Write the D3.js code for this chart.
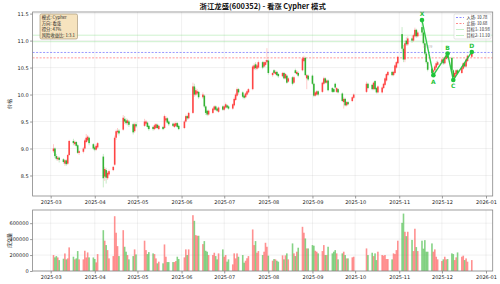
<!DOCTYPE html>
<html><head><meta charset="utf-8">
<script src="https://cdn.jsdelivr.net/npm/d3@7"></script>
<style>body{margin:0;background:#fff}svg{display:block}</style>
</head><body>
<svg id="c" width="500" height="284"></svg>
<script>
const dates = [
"2025-03-03","2025-03-04","2025-03-05","2025-03-06","2025-03-07","2025-03-10","2025-03-11","2025-03-12","2025-03-13","2025-03-14",
"2025-03-17","2025-03-18","2025-03-19","2025-03-20","2025-03-21","2025-03-24","2025-03-25","2025-03-26","2025-03-27","2025-03-28","2025-03-31",
"2025-04-01","2025-04-02","2025-04-03","2025-04-07","2025-04-08","2025-04-09","2025-04-10","2025-04-11","2025-04-14","2025-04-15",
"2025-04-16","2025-04-17","2025-04-18","2025-04-21","2025-04-22","2025-04-23","2025-04-24","2025-04-25","2025-04-28","2025-04-29","2025-04-30",
"2025-05-06","2025-05-07","2025-05-08","2025-05-09","2025-05-12","2025-05-13","2025-05-14","2025-05-15","2025-05-16","2025-05-19",
"2025-05-20","2025-05-21","2025-05-22","2025-05-23","2025-05-26","2025-05-27","2025-05-28","2025-05-29","2025-05-30",
"2025-06-03","2025-06-04","2025-06-05","2025-06-06","2025-06-09","2025-06-10","2025-06-11","2025-06-12","2025-06-13","2025-06-16",
"2025-06-17","2025-06-18","2025-06-19","2025-06-20","2025-06-23","2025-06-24","2025-06-25","2025-06-26","2025-06-27","2025-06-30",
"2025-07-01","2025-07-02","2025-07-03","2025-07-04","2025-07-07","2025-07-08","2025-07-09","2025-07-10","2025-07-11","2025-07-14",
"2025-07-15","2025-07-16","2025-07-17","2025-07-18","2025-07-21","2025-07-22","2025-07-23","2025-07-24","2025-07-25","2025-07-28",
"2025-07-29","2025-07-30","2025-07-31",
"2025-08-01","2025-08-04","2025-08-05","2025-08-06","2025-08-07","2025-08-08","2025-08-11","2025-08-12","2025-08-13","2025-08-14",
"2025-08-15","2025-08-18","2025-08-19","2025-08-20","2025-08-21","2025-08-22","2025-08-25","2025-08-26","2025-08-27","2025-08-28","2025-08-29",
"2025-09-01","2025-09-02","2025-09-03","2025-09-04","2025-09-05","2025-09-08","2025-09-09","2025-09-10","2025-09-11","2025-09-12",
"2025-09-15","2025-09-16","2025-09-17","2025-09-18","2025-09-19","2025-09-22","2025-09-23","2025-09-24","2025-09-25","2025-09-26",
"2025-09-29","2025-09-30",
"2025-10-09","2025-10-10","2025-10-13","2025-10-14","2025-10-15","2025-10-16","2025-10-17","2025-10-20","2025-10-21","2025-10-22",
"2025-10-23","2025-10-24","2025-10-27","2025-10-28","2025-10-29","2025-10-30","2025-10-31",
"2025-11-03","2025-11-04","2025-11-05","2025-11-06","2025-11-07","2025-11-10","2025-11-11","2025-11-12","2025-11-13","2025-11-14",
"2025-11-17","2025-11-18","2025-11-19","2025-11-20","2025-11-21","2025-11-24","2025-11-25","2025-11-26","2025-11-27","2025-11-28",
"2025-12-01","2025-12-02","2025-12-03","2025-12-04","2025-12-05","2025-12-08","2025-12-09","2025-12-10","2025-12-11","2025-12-12",
"2025-12-15","2025-12-16","2025-12-17","2025-12-18","2025-12-19","2025-12-22"];

const opens = [
8.95,9.00,8.86,8.80,8.83,8.80,8.72,8.78,8.72,8.88, 9.14,9.08,9.12,9.06,8.92,8.94,9.00,9.12,9.15,9.20,9.08,
9.02,8.98,9.02,8.85,8.48,8.60,8.45,8.52,8.60,8.70, 9.20,9.30,9.33,9.35,9.55,9.52,9.47,9.50,9.45,9.32,9.45,
9.42,9.46,9.48,9.42,9.40,9.36,9.38,9.44,9.36,9.40, 9.38,9.52,9.56,9.50,9.46,9.40,9.42,9.47,9.42,
9.38,9.50,9.60,9.56,9.66,10.15,10.00,10.02,10.05,9.95, 9.98,9.78,9.70,9.63,9.66,9.72,9.78,9.74,9.68,9.78,
9.72,9.76,9.80,9.78,9.74,9.80,9.90,9.98,10.10,10.04, 9.98,9.95,10.00,10.04,10.10,10.48,10.56,10.48,10.50,10.60,
10.52,10.55,10.60,
10.63,10.36,10.45,10.38,10.42,10.38,10.34,10.40,10.30,10.35, 10.24,10.32,10.22,10.45,10.38,10.40,10.45,10.62,10.68,10.30,10.35,
10.35,10.20,9.98,10.00,10.06,10.05,10.20,10.30,10.22,10.26, 10.12,10.10,10.20,10.05,10.10,10.02,9.86,9.92,9.80,9.86,
9.88,9.94,
10.05,10.20,10.18,10.10,10.25,10.12,10.04,10.04,10.12,10.18, 10.26,10.36,10.42,10.36,10.40,10.50,10.58,
11.12,10.85,10.65,11.00,10.93,11.04,11.00,11.08,11.20,11.08, 11.25,11.15,10.95,10.76,10.60,10.48,10.42,10.45,10.50,10.55,
10.60,10.65,10.58,10.66,10.72,10.68,10.45,10.32,10.38,10.45, 10.40,10.48,10.58,10.52,10.62,10.70];

const closes = [
9.00,8.86,8.81,8.83,8.79,8.75,8.78,8.71,8.88,9.14, 9.10,9.12,9.05,8.92,8.95,9.00,9.15,9.20,9.22,9.10,9.00,
8.98,9.05,9.10,8.45,8.62,8.46,8.55,8.58,8.66,9.20, 9.32,9.33,9.28,9.57,9.50,9.47,9.52,9.44,9.30,9.45,9.41,
9.50,9.50,9.40,9.36,9.36,9.43,9.45,9.38,9.42,9.36, 9.60,9.56,9.48,9.45,9.42,9.46,9.47,9.40,9.36,
9.50,9.60,9.56,9.66,10.15,10.00,10.08,10.06,9.95,10.00, 9.78,9.66,9.63,9.70,9.74,9.78,9.72,9.70,9.76,9.72,
9.78,9.82,9.76,9.74,9.82,9.92,10.00,10.10,10.04,9.96, 9.94,10.02,10.06,10.10,10.52,10.54,10.49,10.54,10.60,10.50,
10.60,10.60,10.64,
10.40,10.40,10.40,10.42,10.36,10.34,10.40,10.30,10.38,10.22, 10.30,10.20,10.32,10.40,10.42,10.35,10.67,10.68,10.36,10.36,10.28,
10.20,9.98,10.04,10.06,10.00,10.22,10.30,10.22,10.26,10.08, 10.05,10.05,10.13,10.12,10.04,9.88,9.92,9.80,9.86,9.82,
9.95,10.00,
10.20,10.12,10.10,10.22,10.10,10.04,10.15,10.13,10.20,10.30, 10.38,10.42,10.36,10.42,10.54,10.60,10.70,
10.85,10.65,10.95,10.93,11.04,11.00,11.10,11.20,11.08,11.15, 11.15,10.95,10.76,10.60,10.46,10.40,10.45,10.52,10.58,10.60,
10.65,10.58,10.68,10.72,10.68,10.45,10.32,10.40,10.45,10.40, 10.50,10.58,10.52,10.65,10.72,10.79];

const highs = [
9.08,9.02,8.90,8.86,8.85,8.82,8.80,8.80,8.90,9.16, 9.18,9.15,9.14,9.08,8.98,9.03,9.18,9.27,9.25,9.22,9.10,
9.05,9.08,9.12,8.90,8.66,8.64,8.58,8.61,8.68,9.24, 9.35,9.38,9.36,9.62,9.60,9.56,9.55,9.53,9.48,9.48,9.49,
9.55,9.53,9.50,9.44,9.42,9.46,9.47,9.46,9.44,9.42, 9.63,9.60,9.58,9.52,9.48,9.48,9.50,9.49,9.44,
9.53,9.63,9.62,9.68,10.22,10.20,10.12,10.10,10.07,10.04, 10.00,9.80,9.72,9.72,9.76,9.80,9.80,9.76,9.78,9.80,
9.80,9.85,9.82,9.80,9.84,9.95,10.03,10.13,10.12,10.06, 10.00,10.04,10.08,10.12,10.55,10.58,10.60,10.57,10.63,10.62,
10.62,10.64,10.86,
10.65,10.42,10.47,10.45,10.44,10.40,10.42,10.42,10.40,10.37, 10.32,10.34,10.35,10.48,10.45,10.43,10.70,10.72,10.70,10.38,10.37,
10.37,10.22,10.06,10.08,10.08,10.24,10.33,10.32,10.28,10.28, 10.14,10.12,10.22,10.14,10.12,10.04,9.95,9.94,9.88,9.88,
9.97,10.02,
10.24,10.22,10.20,10.24,10.27,10.14,10.17,10.15,10.22,10.32, 10.40,10.44,10.44,10.44,10.56,10.62,10.72,
11.25,10.92,11.00,11.06,11.08,11.08,11.13,11.24,11.22,11.18, 11.38,11.17,10.97,10.78,10.62,10.50,10.48,10.55,10.60,10.63,
10.68,10.67,10.70,10.74,10.76,10.70,10.47,10.42,10.47,10.47, 10.52,10.60,10.60,10.67,10.74,10.80];

const lows = [
8.92,8.82,8.78,8.77,8.74,8.72,8.68,8.68,8.70,8.86, 9.06,9.05,9.02,8.90,8.88,8.91,8.98,9.10,9.12,9.06,8.97,
8.95,8.96,9.00,8.28,8.40,8.35,8.42,8.50,8.58,8.68, 9.16,9.26,9.24,9.33,9.46,9.44,9.43,9.40,9.26,9.29,9.38,
9.40,9.43,9.37,9.33,9.33,9.34,9.36,9.36,9.34,9.34, 9.36,9.49,9.46,9.42,9.40,9.38,9.40,9.38,9.34,
9.36,9.48,9.53,9.54,9.64,9.96,9.97,9.99,9.92,9.92, 9.75,9.62,9.60,9.61,9.64,9.70,9.70,9.68,9.66,9.70,
9.70,9.74,9.74,9.72,9.72,9.78,9.88,9.96,10.00,9.93, 9.91,9.93,9.98,10.02,10.08,10.45,10.46,10.45,10.48,10.47,
10.50,10.52,10.58,
10.37,10.33,10.38,10.36,10.34,10.31,10.32,10.28,10.28,10.20, 10.22,10.17,10.20,10.38,10.36,10.32,10.43,10.60,10.34,10.10,10.25,
10.18,9.95,9.96,9.98,9.97,10.03,10.18,10.20,10.20,10.06, 10.03,10.03,10.11,10.03,10.02,9.86,9.74,9.78,9.78,9.80,
9.86,9.92,
10.03,10.10,10.08,10.08,10.08,10.02,10.02,10.02,10.10,10.16, 10.24,10.34,10.34,10.34,10.38,10.48,10.56,
10.80,10.60,10.60,10.90,10.90,10.96,10.98,11.06,11.05,11.06, 11.10,10.92,10.73,10.57,10.43,10.37,10.36,10.43,10.48,10.53,
10.58,10.55,10.56,10.64,10.65,10.42,10.27,10.30,10.36,10.37, 10.38,10.46,10.50,10.50,10.60,10.68];

const volumes = [
200,171,187,170,137,154,220,146,158,296, 179,146,158,250,146,146,254,170,233,171,170,
150,108,212,512,380,325,262,158,187,687, 480,312,187,512,304,242,200,146,187,271,208,
380,262,212,237,221,212,158,96,117,96, 333,179,112,112,112,112,125,179,150,
171,271,200,271,700,629,450,442,442,337, 375,254,242,200,200,229,187,146,221,271,
179,200,117,146,83,221,158,221,179,200, 104,129,160,187,521,325,375,229,250,200,
242,354,304,
192,129,150,146,129,117,196,146,196,221, 146,346,221,187,242,292,554,480,408,283,283,
325,317,254,242,221,250,325,200,200,304, 221,242,262,221,146,221,242,200,158,158,
171,179,
283,200,229,187,221,137,242,200,192,200, 150,150,146,221,212,262,380,
604,720,492,437,492,390,250,530,300,250, 380,280,387,242,242,346,242,271,179,146,
125,146,179,146,150,221,212,137,171,233, 179,192,137,158,117,137].map(v => v * 1000);

const yTicks = [8.5, 9.0, 9.5, 10.0, 10.5, 11.0, 11.5];
const volTicks = [0, 200000, 400000, 600000];
const monthTicks = ["2025-03-01","2025-04-01","2025-05-01","2025-06-01","2025-07-01","2025-08-01","2025-09-01","2025-10-01","2025-11-01","2025-12-01","2026-01-01"];

const patternLabels = ["X","A","B","C","D"];
const patternDates = ["2025-11-17","2025-11-25","2025-12-05","2025-12-09","2025-12-22"];
const patternPrices = [11.38, 10.36, 10.76, 10.27, 10.79];

const levelNames = ["入场","止损","目标1","目标2"];
const levelValues = [10.78, 10.68, 10.98, 11.10];

const infoLines = ["模式: Cypher","方向: 看涨","得分: 47%","风险收益比: 1:3.1"];
const titleText = "浙江龙盛(600352) - 看涨 Cypher 模式";

// ---------------- drawing ----------------
const parse = d3.timeParse("%Y-%m-%d");
const dts = dates.map(parse);
const DAY = 864e5;
const pad = 14.7 * DAY;
const L = 32.6, R = 492.7;
const x = d3.scaleTime()
  .domain([new Date(dts[0].getTime() - pad), new Date(dts[dts.length-1].getTime() + pad)])
  .range([L, R]);
const y = d3.scaleLinear().domain([8.12, 11.53]).range([196, 12]);
const yv = d3.scaleLinear().domain([0, 765000]).range([271, 210]);

const svg = d3.select("#c");
const FONT = "DejaVu Sans, Noto Sans CJK SC, sans-serif";
const CJK = "Noto Sans CJK SC, DejaVu Sans, sans-serif";
const RED = "#ff2b2b", GREEN = "#18a818";

svg.append("rect").attr("width",500).attr("height",284).attr("fill","#fff");

const mTicks = monthTicks.map(parse);

function panel(top, bottom, yScale, ticks, fmt) {
  const g = svg.append("g");
  g.selectAll(".vg").data(mTicks).enter().append("line")
    .attr("x1", d => x(d)).attr("x2", d => x(d)).attr("y1", top).attr("y2", bottom)
    .attr("stroke", "#b0b0b0").attr("stroke-opacity", 0.3).attr("stroke-width", 0.6);
  g.selectAll(".hg").data(ticks).enter().append("line")
    .attr("x1", L).attr("x2", R).attr("y1", d => yScale(d)).attr("y2", d => yScale(d))
    .attr("stroke", "#b0b0b0").attr("stroke-opacity", 0.3).attr("stroke-width", 0.6);
  const ax = g.append("g").attr("transform", `translate(0,${bottom})`)
    .call(d3.axisBottom(x).tickValues(mTicks).tickFormat(d3.timeFormat("%Y-%m")).tickSize(2.5).tickPadding(1.5));
  const ay = g.append("g").attr("transform", `translate(${L},0)`)
    .call(d3.axisLeft(yScale).tickValues(ticks).tickFormat(fmt).tickSize(2.5).tickPadding(1.5));
  [ax, ay].forEach(a => {
    a.select(".domain").remove();
    a.selectAll("line").attr("stroke", "#555").attr("stroke-width", 0.6);
    a.selectAll("text").attr("font-size", 5).attr("font-family", FONT).attr("fill", "#222");
  });
  return g;
}

panel(12, 196, y, yTicks, d3.format(".1f"));
panel(210, 271, yv, volTicks, d3.format("d"));

const levelStyles = [
  {c:"#3c3cff", dash:"2,1.5", op:0.75, w:0.7},
  {c:"#ff3c3c", dash:"2,1.5", op:0.75, w:0.7},
  {c:"#7ddc7d", dash:null, op:0.55, w:0.7},
  {c:"#7ddc7d", dash:null, op:0.55, w:0.7}
];
levelValues.forEach((v, i) => {
  const s = levelStyles[i];
  svg.append("line").attr("x1", L).attr("x2", R).attr("y1", y(v)).attr("y2", y(v))
    .attr("stroke", s.c).attr("stroke-opacity", s.op).attr("stroke-width", s.w)
    .attr("stroke-dasharray", s.dash);
});

// candles
const cg = svg.append("g");
const bw = 1.6;
dts.forEach((d, i) => {
  const up = closes[i] >= opens[i];
  const col = up ? RED : GREEN;
  const cx = x(d);
  cg.append("line").attr("x1", cx).attr("x2", cx).attr("y1", y(highs[i])).attr("y2", y(lows[i]))
    .attr("stroke", col).attr("stroke-opacity", 0.3).attr("stroke-width", 0.8);
  const y0 = y(Math.max(opens[i], closes[i])), y1 = y(Math.min(opens[i], closes[i]));
  cg.append("rect").attr("x", cx - bw/2).attr("y", y0).attr("width", bw).attr("height", Math.max(0.6, y1 - y0))
    .attr("fill", col).attr("fill-opacity", 0.85);
});

// volume bars
const vg = svg.append("g");
dts.forEach((d, i) => {
  const up = closes[i] >= opens[i];
  vg.append("rect").attr("x", x(d) - 0.8).attr("y", yv(volumes[i])).attr("width", 1.6)
    .attr("height", yv(0) - yv(volumes[i]))
    .attr("fill", up ? "#ff4d4d" : "#3cb83c").attr("fill-opacity", 0.62);
});

// pattern
const pts = patternDates.map((d, i) => ({x: x(parse(d)), y: y(patternPrices[i]), l: patternLabels[i], v: patternPrices[i]}));
const PC = "#1fc43a";
svg.append("path").attr("d", d3.line().x(d => d.x).y(d => d.y)(pts))
  .attr("fill", "none").attr("stroke", PC).attr("stroke-width", 1.4).attr("stroke-opacity", 0.9);
const r1 = (patternPrices[2]-patternPrices[1])/(patternPrices[0]-patternPrices[1]);
const r2 = (patternPrices[2]-patternPrices[3])/(patternPrices[2]-patternPrices[1]);
[[0,1,r1],[1,2,r2]].forEach(([a,b,r]) => {
  svg.append("text").attr("x", (pts[a].x+pts[b].x)/2).attr("y", (pts[a].y+pts[b].y)/2)
    .attr("text-anchor","middle").attr("font-size",4.2).attr("font-family",FONT)
    .attr("fill","#999").attr("fill-opacity",0.7).text(r.toFixed(2));
});
svg.selectAll(".pp").data(pts).enter().append("circle")
  .attr("cx", d => d.x).attr("cy", d => d.y).attr("r", 2.3).attr("fill", PC);
const above = {X:true, A:false, B:true, C:false, D:true};
svg.selectAll(".pl").data(pts).enter().append("text")
  .attr("x", d => d.x).attr("y", d => above[d.l] ? d.y - 4 : d.y + 8.5)
  .attr("text-anchor","middle").attr("font-size",6).attr("font-weight","bold")
  .attr("font-family",FONT).attr("fill",PC).text(d => d.l);

// frames
[[12,196],[210,271]].forEach(([t,b]) => {
  svg.append("rect").attr("x", L).attr("y", t).attr("width", R-L).attr("height", b-t)
    .attr("fill","none").attr("stroke","#888").attr("stroke-width",0.8);
});

// info box
const ib = svg.append("g");
ib.append("rect").attr("x",40).attr("y",14).attr("width",37.5).attr("height",25).attr("rx",1.5)
  .attr("fill","#f5deb3").attr("fill-opacity",0.85).attr("stroke","#9c8a6a").attr("stroke-width",0.6);
infoLines.forEach((t,i) => {
  ib.append("text").attr("x",41.8).attr("y",19.4 + i*5.9).attr("font-size",4.3)
    .attr("font-family",CJK).attr("fill","#222").text(t);
});

// legend
const lg = svg.append("g");
lg.append("rect").attr("x",454).attr("y",14).attr("width",37).attr("height",25).attr("rx",1.2)
  .attr("fill","#fff").attr("fill-opacity",0.85).attr("stroke","#ccc").attr("stroke-width",0.5);
levelValues.forEach((v,i) => {
  const s = levelStyles[i];
  const yy = 17.5 + i*6;
  lg.append("line").attr("x1",456).attr("x2",464).attr("y1",yy).attr("y2",yy)
    .attr("stroke",s.c).attr("stroke-opacity",s.op).attr("stroke-width",0.8).attr("stroke-dasharray",s.dash);
  lg.append("text").attr("x",466.5).attr("y",yy+1.5).attr("font-size",4.2)
    .attr("font-family",CJK).attr("fill","#222").text(`${levelNames[i]}: ${v.toFixed(2)}`);
});

// titles
svg.append("text").attr("x",(L+R)/2).attr("y",8.6).attr("text-anchor","middle")
  .attr("font-size",7.4).attr("font-weight","bold").attr("font-family",CJK).attr("fill","#111").text(titleText);
svg.append("text").attr("transform","translate(11,104) rotate(-90)").attr("text-anchor","middle")
  .attr("font-size",5).attr("font-family",CJK).attr("fill","#222").text("价格");
svg.append("text").attr("transform","translate(11,240.5) rotate(-90)").attr("text-anchor","middle")
  .attr("font-size",5).attr("font-family",CJK).attr("fill","#222").text("成交量");
</script>
</body></html>
